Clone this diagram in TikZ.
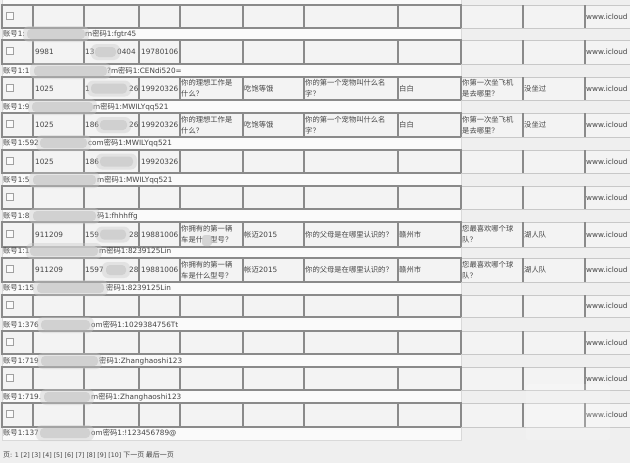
\documentclass[tikz,border=0pt]{standalone}
\usepackage{fontspec}
\setmainfont{DejaVu Sans}
\newfontfamily\cjk{Noto Sans CJK SC}
\definecolor{bgc}{HTML}{EFEFEF}
\definecolor{cellc}{HTML}{F3F3F3}
\definecolor{bandc}{HTML}{FAFAFA}
\definecolor{bordc}{HTML}{8A8A8A}
\definecolor{lightb}{HTML}{C8C8C8}
\definecolor{txtc}{HTML}{444444}
\definecolor{blobc}{HTML}{CACACA}
\newcommand\blurblob[3]{%
  \fill[blobc,opacity=0.4,rounded corners=6pt] ({#1-4},{#3-8}) rectangle ({#2+4},{#3+8});
  \fill[blobc,opacity=0.75,rounded corners=4pt] (#1,{#3-5}) rectangle (#2,{#3+5});}
\newcommand\acctline[6]{%
  \node[txt] (p#1) at (3,#1) {{\cjk 账号}1:#2};
  \node[txt] (s#1) at (#5,#1) {#6};
  \blurblob{#3}{#4}{#1}}
\begin{document}
\begin{tikzpicture}[x=1pt,y=-1pt,
  txt/.style={anchor=west,inner sep=0pt,text=txtc,font=\fontsize{7.3}{10.8}\selectfont},
  cjktxt/.style={txt,align=left,font=\fontsize{7.3}{10.8}\selectfont\cjk},
  cellbox/.style={draw=bordc,fill=cellc,line width=1.2pt},
  chk/.style={draw=lightb!80!black,fill=bandc,minimum size=7pt,inner sep=0pt,line width=0.6pt},
  bandbox/.style={fill=bandc,draw=lightb!70,line width=0.6pt}]
\useasboundingbox (0,0) rectangle (630,463);
\fill[bgc] (0,0) rectangle (630,463);
\begin{scope}
\clip (0,0) rectangle (630,463);
% account bands
\foreach \a/\b in {-10/5,28/40,64/77,100/113,137/150,173/186,209/222,247/258,282/295,317/331,354/367,390/403,427/440}{
  \path[bandbox] (2,\a) rectangle (461,\b);
}
% data rows
\foreach \t/\b [count=\i] in {5/28,40/64,77/100,113/137,150/173,186/209,222/247,258/282,295/317,331/354,367/390,403/427}{
  \foreach \l/\r in {2/33,33/84,84/139,139/180,180/243,243/304,304/398,398/461}{
    \path[cellbox] (\l,\t) rectangle (\r,\b);
  }
  \fill[cellc] (461,\t) rectangle (640,\b);
  \draw[lightb,line width=0.7pt] (461,\t) -- (640,\t) (461,\b) -- (640,\b);
  \draw[bordc,line width=1.2pt] (461,\t) -- (461,\b) (523,\t) -- (523,\b) (585,\t) -- (585,\b);
  \node[chk] (cb\i) at (9.5,{(\t+\b)/2-1}) {};
  \node[txt] (ic\i) at (586,{(\t+\b)/2}) {www.icloud};
}
% row 2
\node[txt] (r2a) at (35,52) {9981};
\node[txt] (r2b) at (85,52) {13};
\node[txt] (r2c) at (117,52) {0404};
\node[txt] (r2d) at (141,52) {19780106};
\blurblob{95}{116}{52}
% rows 3 and 4
\foreach \y/\p/\q [count=\k] in {88.5/1/91,125/186/100}{
  \node[txt] (q\k a) at (35,\y) {1025};
  \node[txt] (q\k b) at (85,\y) {\p};
  \node[txt] (q\k c) at (129,\y) {26};
  \node[txt] (q\k d) at (141,\y) {19920326};
  \node[cjktxt] (q\k e) at (181,\y) {你的理想工作是\\什么？};
  \node[cjktxt] (q\k f) at (244,\y) {吃饱等饿};
  \node[cjktxt] (q\k g) at (305,\y) {你的第一个宠物叫什么名\\字？};
  \node[cjktxt] (q\k h) at (399,\y) {白白};
  \node[cjktxt] (q\k i) at (462,\y) {你第一次坐飞机\\是去哪里？};
  \node[cjktxt] (q\k j) at (524,\y) {没坐过};
  \blurblob{\q}{127}{\y}
}
% row 5
\node[txt] (r5a) at (35,161.5) {1025};
\node[txt] (r5b) at (85,161.5) {186};
\node[txt] (r5d) at (141,161.5) {19920326};
\blurblob{100}{133}{161.5}
% rows 7 and 8
\foreach \y/\p/\q [count=\k] in {234.5/159/100,270/1597/106}{
  \node[txt] (w\k a) at (35,\y) {911209};
  \node[txt] (w\k b) at (85,\y) {\p};
  \node[txt] (w\k c) at (129,\y) {28};
  \node[txt] (w\k d) at (141,\y) {19881006};
  \node[txt] (w\k f) at (244,\y) {{\cjk 帐迈}2015};
  \node[cjktxt] (w\k g) at (305,\y) {你的父母是在哪里认识的？};
  \node[cjktxt] (w\k h) at (399,\y) {赣州市};
  \node[cjktxt] (w\k i) at (462,\y) {您最喜欢哪个球\\队？};
  \node[cjktxt] (w\k j) at (524,\y) {湖人队};
  \blurblob{\q}{126}{\y}
}
\node[cjktxt] (w1e) at (181,234.5) {你拥有的第一辆\\车是什\hspace{7.3pt}型号？};
\node[cjktxt] (w2e) at (181,270) {你拥有的第一辆\\车是什么型号？};
\fill[blobc,opacity=0.75,rounded corners=3pt] (202,235) rectangle (212,246);
% account lines
\acctline{34}{}{27}{85}{85}{m{\cjk 密码}1:fgtr45}
\acctline{71}{1}{34}{107}{107}{?m{\cjk 密码}1:CENdi520=}
\acctline{107}{9}{32}{93}{93}{m{\cjk 密码}1:MWILYqq521}
\acctline{143}{592}{40}{87}{88}{com{\cjk 密码}1:MWILYqq521}
\acctline{180}{5}{33}{96}{97}{m{\cjk 密码}1:MWILYqq521}
\acctline{216}{8}{33}{96}{97}{{\cjk 码}1:fhhhffg}
\acctline{251}{1}{30}{98}{99}{m{\cjk 密码}1:8239125Lin}
\acctline{288}{15}{37}{104}{106}{{\cjk 密码}1:8239125Lin}
\acctline{325}{376}{41}{90}{91}{om{\cjk 密码}1:1029384756Tt}
\acctline{361}{719}{41}{98}{99}{{\cjk 密码}1:Zhanghaoshi123}
\acctline{397}{719.}{44}{90}{91}{m{\cjk 密码}1:Zhanghaoshi123}
\acctline{433}{137}{40}{90}{91}{om{\cjk 密码}1:!123456789@}
% pagination
\node[txt,font=\fontsize{6.3}{8}\selectfont] (pg) at (3,455) {{\fontsize{7}{8}\selectfont\cjk 页}: 1 [2] [3] [4] [5] [6] [7] [8] [9] [10] {\fontsize{7}{8}\selectfont\cjk 下一页 最后一页}};
% faint watermark
\fill[white,opacity=0.18,rounded corners=3pt] (526,384) rectangle (610,440);
\end{scope}
\end{tikzpicture}
\end{document}
